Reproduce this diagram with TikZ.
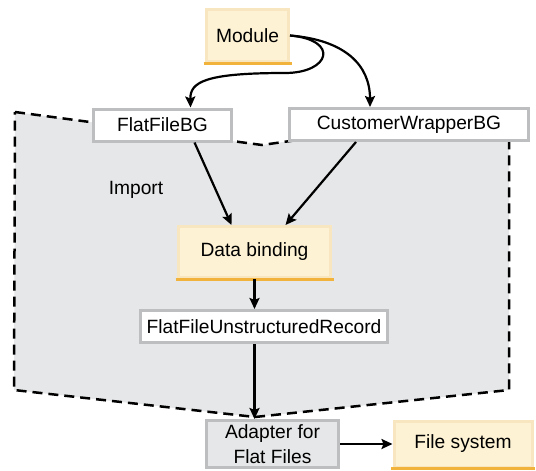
\documentclass[tikz,border=0pt]{standalone}
\usepackage{fontspec}
\setmainfont{Liberation Sans}
\usetikzlibrary{arrows.meta}
\definecolor{cream}{HTML}{FDF2D4}
\definecolor{creamedge}{HTML}{F7E6BF}
\definecolor{amber}{HTML}{F2B33D}
\definecolor{boxedge}{HTML}{BDBEC0}
\definecolor{regiongray}{HTML}{E6E7E8}

\begin{document}
\begin{tikzpicture}[x=1pt,y=-1pt,
  every node/.style={font=\fontsize{19.2}{25}\selectfont, inner sep=0pt},
  bgbox/.style={draw=boxedge, line width=3pt, fill=white, minimum height=32pt},
  warmbox/.style={draw=creamedge, line width=3pt, fill=cream,
    append after command={([xshift=-1.5pt]\tikzlastnode.south west)
      edge[draw=amber, line width=3pt, -] ([xshift=1.5pt]\tikzlastnode.south east)}},
  link/.style={line width=2.2pt, -{Stealth[length=11pt,width=10pt,inset=2pt]}}]
  \useasboundingbox (0,0) rectangle (536,471);

  % import region
  \path[fill=regiongray, draw=black, line width=2.5pt, dash pattern=on 10pt off 6pt]
    (15,112) -- (262,145) -- (509,110) -- (509,390) -- (255,417) -- (14,390) -- cycle;

  \node[warmbox, minimum width=82pt, minimum height=52pt] (module) at (247.5,35.5) {Module};
  \node[bgbox, minimum width=138pt] (flatbg) at (162.5,125) {FlatFileBG};
  \node[bgbox, minimum width=239pt] (custbg) at (409,124.5) {CustomerWrapperBG};
  \node (import) at (136,190) {Import};
  \node[warmbox, minimum width=152pt, minimum height=51pt] (binding) at (254.5,252) {Data binding};
  \node[bgbox, minimum width=247pt] (record) at (264,326.5) {FlatFileUnstructuredRecord};
  \node[bgbox, fill=regiongray, minimum width=132pt, minimum height=47pt, align=center]
    (adapter) at (272.5,444) {Adapter for\\Flat Files};
  \node[warmbox, minimum width=138pt, minimum height=46pt] (files) at (463,444) {File system};

  \draw[link] (module.east) .. controls (340,40) and (330,73) .. (285,73)
    .. controls (205,73) and (190,82) .. ([xshift=28pt]flatbg.north);
  \draw[link] (module.east) .. controls (345,40) and (370,65) .. ([xshift=-39pt]custbg.north);
  \draw[link] ([xshift=32pt]flatbg.south) -- ([xshift=-23pt]binding.north);
  \draw[link] ([xshift=-53pt]custbg.south) -- ([xshift=31pt]binding.north);
  \draw[link] (binding.south) -- (binding.south |- record.north);
  \draw[link] (record.south -| binding.south) -- (adapter.north -| binding.south);
  \draw[link] (adapter.east) -- (files.west);
\end{tikzpicture}
\end{document}
